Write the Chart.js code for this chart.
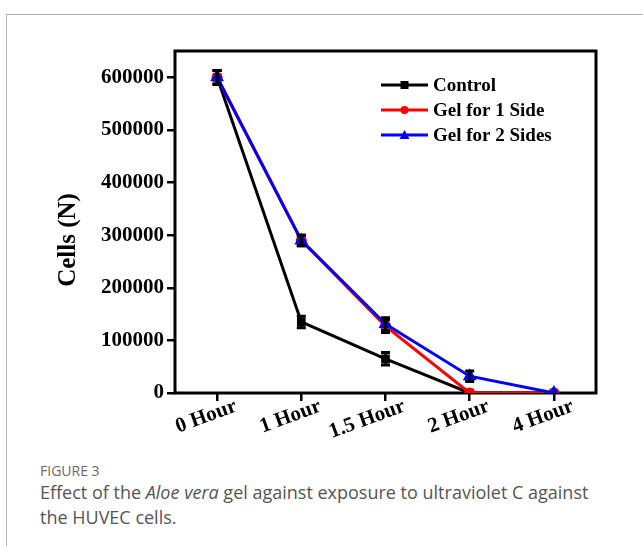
<!DOCTYPE html>
<html><head><meta charset="utf-8">
<script src="https://cdn.jsdelivr.net/npm/chart.js@4/dist/chart.umd.min.js"></script>
<style>
html,body{margin:0;padding:0;background:#fff;width:643px;height:546px;overflow:hidden}
.card{position:absolute;left:6px;top:14px;right:-10px;bottom:-10px;border-top:1px solid #b4b4b4;border-left:1px solid #b4b4b4}
#chart{position:absolute;left:0;top:0}
.cap{position:absolute;left:40px;font-family:'Open Sans',sans-serif;color:#555}
.fig{top:461px;font-size:14px;color:#6a6a6a}
.txt{top:480px;font-size:18px;line-height:25px;width:600px}
</style></head><body>
<div class="card"></div>
<canvas id="chart" width="643" height="450"></canvas>
<div class="cap fig">FIGURE 3</div>
<div class="cap txt">Effect of the <i>Aloe vera</i> gel against exposure to ultraviolet C against<br>the HUVEC cells.</div>
<script>
const hours = ['0 Hour', '1 Hour', '1.5 Hour', '2 Hour', '4 Hour'];
const yTicks = [0, 100000, 200000, 300000, 400000, 500000, 600000];
const control = [600000, 135000, 65000, 0, 0];
const controlErr = [13000, 11000, 12000, 0, 0];
const gel1 = [600000, 290000, 127000, 0, 0];
const gel1Err = [13000, 10000, 12000, 0, 0];
const gel2 = [600000, 290000, 131000, 32000, 0];
const gel2Err = [13000, 10000, 12000, 10000, 0];

const SERIF = '"Liberation Serif", "Times New Roman", serif';

function marker(ctx, style, x, y, color) {
  ctx.fillStyle = color;
  ctx.beginPath();
  if (style === 'rect') ctx.rect(x - 4, y - 4, 8, 8);
  else if (style === 'circle') ctx.arc(x, y, 4, 0, Math.PI * 2);
  else { ctx.moveTo(x, y - 5); ctx.lineTo(x + 5, y + 4); ctx.lineTo(x - 5, y + 4); ctx.closePath(); }
  ctx.fill();
}

// axis box around the plot area (Origin style)
const frame = {
  id: 'frame',
  beforeDatasetsDraw(chart) {
    const { ctx, chartArea: a } = chart;
    ctx.save();
    ctx.strokeStyle = '#000'; ctx.lineWidth = 3;
    ctx.strokeRect(a.left, a.top, a.right - a.left, a.bottom - a.top);
    ctx.restore();
  },
};

// black error bars for every series
const errorBars = {
  id: 'errorBars',
  afterDatasetsDraw(chart) {
    const { ctx, scales: { x, y } } = chart;
    ctx.save();
    ctx.strokeStyle = '#000';
    chart.data.datasets.forEach((ds) => {
      ds.err.forEach((e, i) => {
        if (!e) return;
        const px = x.getPixelForValue(i);
        const hi = y.getPixelForValue(ds.data[i] + e);
        const lo = y.getPixelForValue(ds.data[i] - e);
        ctx.lineWidth = 2.5;
        ctx.beginPath(); ctx.moveTo(px, hi); ctx.lineTo(px, lo); ctx.stroke();
        ctx.lineWidth = 3;
        ctx.beginPath();
        ctx.moveTo(px - 4.5, hi); ctx.lineTo(px + 4.5, hi);
        ctx.moveTo(px - 4.5, lo); ctx.lineTo(px + 4.5, lo);
        ctx.stroke();
      });
    });
    ctx.restore();
  },
};

const legendBox = {
  id: 'legendBox',
  afterDraw(chart) {
    const { ctx, chartArea: a } = chart;
    ctx.save();
    ctx.font = 'bold 19px ' + SERIF;
    ctx.textBaseline = 'middle';
    chart.data.datasets.forEach((ds, i) => {
      const y = a.top + 34 + i * 25, x0 = a.left + 206, x1 = a.left + 253;
      ctx.strokeStyle = ds.borderColor; ctx.lineWidth = 3;
      ctx.beginPath(); ctx.moveTo(x0, y); ctx.lineTo(x1, y); ctx.stroke();
      marker(ctx, ds.pointStyle, (x0 + x1) / 2, y, ds.borderColor);
      ctx.fillStyle = '#000';
      ctx.fillText(ds.label, x1 + 5, y + 1);
    });
    ctx.restore();
  },
};

const yTitle = {
  id: 'yTitle',
  afterDraw(chart) {
    const { ctx, chartArea: a } = chart;
    ctx.save();
    ctx.translate(a.left - 106, (a.top + a.bottom) / 2 + 18);
    ctx.rotate(-Math.PI / 2);
    ctx.font = 'bold 25px ' + SERIF;
    ctx.fillStyle = '#000';
    ctx.textAlign = 'center'; ctx.textBaseline = 'middle';
    ctx.fillText('Cells (N)', 0, 0);
    ctx.restore();
  },
};

const tickFont = { family: SERIF, size: 21, weight: 'bold' };
const axisGrid = { drawOnChartArea: false, tickLength: 8, color: '#000', lineWidth: 2.5 };

new Chart(document.getElementById('chart'), {
  type: 'line',
  data: {
    labels: hours,
    datasets: [
      { label: 'Control', data: control, err: controlErr, borderColor: '#000000', backgroundColor: '#000000',
        pointStyle: 'rect', pointRadius: 4, borderWidth: 3, order: 3 },
      { label: 'Gel for 1 Side', data: gel1, err: gel1Err, borderColor: '#ff0000', backgroundColor: '#ff0000',
        pointStyle: 'circle', pointRadius: 4, borderWidth: 3, order: 2 },
      { label: 'Gel for 2 Sides', data: gel2, err: gel2Err, borderColor: '#0000ff', backgroundColor: '#0000ff',
        pointStyle: 'triangle', pointRadius: 5, borderWidth: 3, order: 1 },
    ],
  },
  options: {
    responsive: false, animation: false, devicePixelRatio: 1,
    layout: { padding: { top: 51, right: 47, left: 0, bottom: 0 } },
    plugins: { legend: { display: false }, tooltip: { enabled: false } },
    scales: {
      x: {
        offset: true, grid: axisGrid, border: { display: false },
        ticks: { color: '#000', font: tickFont, minRotation: 20, maxRotation: 20, labelOffset: 19, padding: -7, autoSkip: false },
        afterFit: (s) => { s.height = 57; },
      },
      y: {
        min: 0, max: 650000, grid: axisGrid, border: { display: false },
        ticks: { color: '#000', font: tickFont, padding: 3, callback: (v) => String(v) },
        afterBuildTicks: (s) => { s.ticks = yTicks.map((v) => ({ value: v })); },
        afterFit: (s) => { s.width = 175; },
      },
    },
  },
  plugins: [frame, errorBars, legendBox, yTitle],
});
</script>
</body></html>
